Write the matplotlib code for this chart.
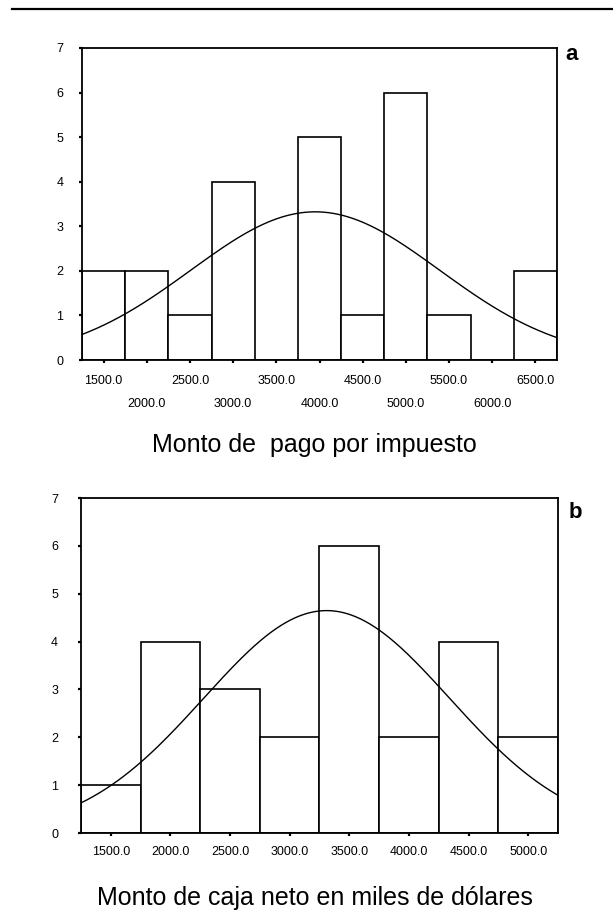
import matplotlib
matplotlib.use("Agg")
import matplotlib.pyplot as plt
import numpy as np

# --- DATA ---
# panel a: Monto de pago por impuesto
a_centers = [1500, 2000, 2500, 3000, 3500, 4000, 4500, 5000, 5500, 6000, 6500]
a_counts = [2, 2, 1, 4, 0, 5, 1, 6, 1, 0, 2]
a_mean, a_sd = 3950.0, 1440.0

# panel b: Monto de caja neto en miles de dólares
b_centers = [1500, 2000, 2500, 3000, 3500, 4000, 4500, 5000]
b_counts = [1, 4, 3, 2, 6, 2, 4, 2]
b_mean, b_sd = 3310.0, 1030.0

bin_width = 500
y_ticks = [0, 1, 2, 3, 4, 5, 6, 7]

plt.rcParams['font.family'] = ['Liberation Sans', 'DejaVu Sans']


def draw_hist(ax, centers, counts, mean, sd):
    ax.bar(centers, counts, width=bin_width, color='white',
           edgecolor='black', linewidth=1.2, zorder=2)
    lo = centers[0] - bin_width / 2
    hi = centers[-1] + bin_width / 2
    # fitted normal curve, scaled to counts
    xs = np.linspace(lo, hi, 400)
    n = sum(counts)
    ys = n * bin_width * np.exp(-0.5 * ((xs - mean) / sd) ** 2) / (sd * np.sqrt(2 * np.pi))
    ax.plot(xs, ys, color='black', linewidth=1.0, zorder=3)
    ax.set_xlim(lo, hi)
    ax.set_ylim(0, 7)
    ax.set_yticks(y_ticks)
    for sp in ax.spines.values():
        sp.set_linewidth(1.3)
    ax.tick_params(axis='both', length=2.5, width=1.6, direction='out',
                   labelsize=9)


fig = plt.figure(figsize=(6.13, 9.14), dpi=100)

# horizontal rule at the top
fig.add_artist(plt.Line2D([0.02, 1.0], [0.9905, 0.9905], color='black',
                          linewidth=1.6, transform=fig.transFigure))

# --- panel a ---
ax_a = fig.add_axes([0.1338, 0.6061, 0.7749, 0.3414])
draw_hist(ax_a, a_centers, a_counts, a_mean, a_sd)
ax_a.set_xticks(a_centers[0::2])
ax_a.set_xticklabels([f"{v:.1f}" for v in a_centers[0::2]])
ax_a.set_xticks(a_centers[1::2], minor=True)
ax_a.set_xticklabels([f"{v:.1f}" for v in a_centers[1::2]], minor=True)
ax_a.tick_params(axis='x', which='major', pad=8)
ax_a.tick_params(axis='x', which='minor', length=2.5, width=1.6,
                 labelsize=9, pad=25)
ax_a.tick_params(axis='y', pad=11)
fig.text(0.513, 1 - 445 / 914, "Monto de  pago por impuesto",
         ha='center', va='center', fontsize=18)
fig.text(0.933, 1 - 55 / 914, "a", ha='center', va='center',
         fontsize=16, fontweight='bold')

# --- panel b ---
ax_b = fig.add_axes([0.1321, 0.0886, 0.7781, 0.3665])
draw_hist(ax_b, b_centers, b_counts, b_mean, b_sd)
ax_b.set_xticks(b_centers)
ax_b.set_xticklabels([f"{v:.1f}" for v in b_centers])
ax_b.tick_params(axis='x', pad=7)
ax_b.tick_params(axis='y', pad=14)
fig.text(0.514, 1 - 898 / 914, "Monto de caja neto en miles de dólares",
         ha='center', va='center', fontsize=18)
fig.text(0.938, 1 - 513 / 914, "b", ha='center', va='center',
         fontsize=16, fontweight='bold')

fig.savefig("out.png", dpi=100, facecolor='white')
